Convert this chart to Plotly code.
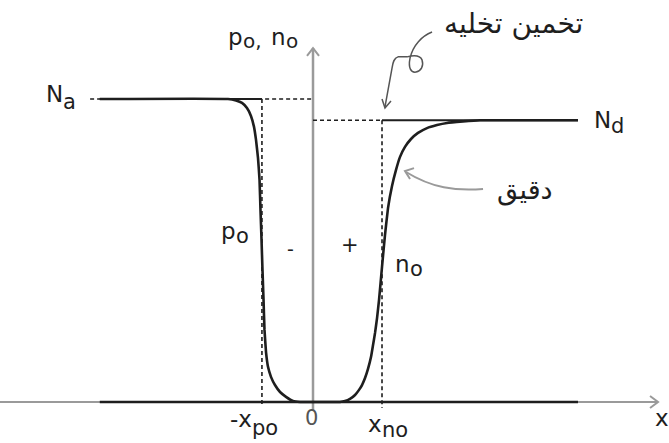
import plotly.graph_objects as go

# Doping levels (normalised to N_a) and depletion edges (normalised to x_no)
Na = 1.0
Nd = 0.93
x_po = 0.74
x_no = 1.0
x_left = -3.09
x_right = 3.84

# Exact hole concentration p_o(x)
p_x = [-3.09, -1.232, -1.116, -1.029, -0.957, -0.899, -0.855, -0.826, -0.797, -0.775,
       -0.761, -0.746, -0.732, -0.717, -0.703, -0.681, -0.652, -0.609, -0.551, -0.478,
       -0.391, -0.290, -0.188, 0.0, 3.84]
p_val = [1.0, 1.0, 0.995, 0.987, 0.970, 0.944, 0.908, 0.865, 0.805, 0.733,
         0.634, 0.535, 0.436, 0.337, 0.238, 0.165, 0.116, 0.083, 0.056, 0.033,
         0.017, 0.003, 0.0, 0.0, 0.0]

# Exact electron concentration n_o(x)
n_x = [-3.09, 0.0, 0.391, 0.464, 0.536, 0.609, 0.667, 0.710, 0.754, 0.797, 0.841, 0.870,
       0.899, 0.928, 0.957, 1.0, 1.043, 1.087, 1.145, 1.203, 1.261, 1.333, 1.420, 1.522,
       1.652, 1.797, 1.942, 2.174, 2.420, 3.84]
n_val = [0.0, 0.0, 0.0, 0.003, 0.010, 0.023, 0.040, 0.056, 0.079, 0.109, 0.149, 0.188,
         0.228, 0.277, 0.337, 0.446, 0.551, 0.640, 0.713, 0.766, 0.809, 0.842, 0.868, 0.888,
         0.904, 0.914, 0.921, 0.926, 0.93, 0.93]

X_RANGE = [-4.536, 5.159]
Y_RANGE = [-0.1353, 1.3267]

INK = "#1e1e1e"
AXIS = "#9a9a9a"
FONT = "DejaVu Sans"

fig = go.Figure()

# Carrier concentration curves
for xs, ys in ((p_x, p_val), (n_x, n_val)):
    fig.add_trace(go.Scatter(x=xs, y=ys, mode="lines",
                             line=dict(color=INK, width=2.6, shape="spline", smoothing=0.3),
                             hoverinfo="skip"))

shapes = []


def seg(x0, y0, x1, y1, color=INK, width=1.6, dash="solid"):
    shapes.append(dict(type="line", xref="x", yref="y", x0=x0, y0=y0, x1=x1, y1=y1,
                       line=dict(color=color, width=width, dash=dash), layer="below"))


def path(d, color, width):
    shapes.append(dict(type="path", xref="x", yref="y", path=d,
                       line=dict(color=color, width=width)))


DASH = "4px,3px"

# Axes with open arrow heads
seg(X_RANGE[0], 0, 5.0, 0, color=AXIS, width=2)
path("M4.884,0.0198 L5.0,0 L4.884,-0.0198", AXIS, 2)
seg(0, -0.026, 0, 1.168, color=AXIS, width=2.5)
path("M-0.087,1.142 L0,1.168 L0.087,1.142", AXIS, 2)

# Depletion approximation: reference levels and edges
seg(-3.23, Na, 0, Na, dash=DASH)
seg(x_left, Na, -x_po, Na, width=2)
seg(-x_po, Na, -x_po, -0.013, dash=DASH)
seg(0, Nd, x_no, Nd, dash=DASH)
seg(x_no, Nd, x_right, Nd, width=2)
seg(x_no, Nd, x_no, -0.02, dash=DASH)

# Curly pointer to the depletion approximation
path("M1.725,1.221 C1.580,1.208 1.449,1.178 1.406,1.135 "
     "C1.377,1.102 1.420,1.086 1.493,1.089 "
     "C1.565,1.092 1.609,1.109 1.580,1.129 "
     "C1.551,1.145 1.464,1.145 1.362,1.139 L1.232,1.139 "
     "C1.174,1.135 1.159,1.122 1.145,1.102 L1.043,0.974", "#555555", 1.5)
path("M1.0,1.0 L1.043,0.970 L1.130,0.993", "#555555", 1.5)

# Pointer to the exact solution
path("M2.464,0.703 C2.058,0.696 1.725,0.706 1.348,0.759", "#9a9a9a", 2)
path("M1.464,0.772 L1.333,0.762 L1.406,0.736", "#9a9a9a", 2)

annotations = []


def text(x, y, s, size=23, xanchor="center", yshift=0, xshift=0, family=FONT, color=INK):
    annotations.append(dict(x=x, y=y, xref="x", yref="y", text=s, showarrow=False,
                            xanchor=xanchor, yanchor="middle", yshift=yshift, xshift=xshift,
                            borderpad=0, borderwidth=0,
                            font=dict(family=family, size=size, color=color)))


def sub_label(x, y, main, sub, drop, size=23, sub_size=21):
    text(x, y, main, size=size, xanchor="right")
    text(x, y, sub, size=sub_size, xanchor="left", yshift=-drop)


sub_label(-3.630, 1.015, "N", "a", 8)
sub_label(4.319, 0.932, "N", "d", 6)
sub_label(-1.014, 1.205, "p", "o,", 4, size=23, sub_size=20)
sub_label(-0.391, 1.205, "n", "o", 4, size=23, sub_size=20)
sub_label(-1.116, 0.564, "p", "o", 5)
sub_label(1.406, 0.457, "n", "o", 5)
sub_label(-0.884, -0.056, "-x", "po", 9)
sub_label(1.007, -0.0726, "x", "no", 6)

text(-0.029, -0.054, "0", size=21, color="#555555")
text(5.058, -0.053, "x", size=23)
text(-0.333, 0.505, "-", size=19)
text(0.536, 0.518, "+", size=21)

text(2.899, 1.248, "تخمین تخلیه", size=28)
text(3.072, 0.700, "دقیق", size=27)

fig.update_layout(
    width=669, height=443,
    margin=dict(l=0, r=0, t=0, b=0),
    paper_bgcolor="white", plot_bgcolor="white",
    showlegend=False,
    xaxis=dict(visible=False, range=X_RANGE, fixedrange=True),
    yaxis=dict(visible=False, range=Y_RANGE, fixedrange=True),
    shapes=shapes,
    annotations=annotations,
)

fig.write_html("out.html")
